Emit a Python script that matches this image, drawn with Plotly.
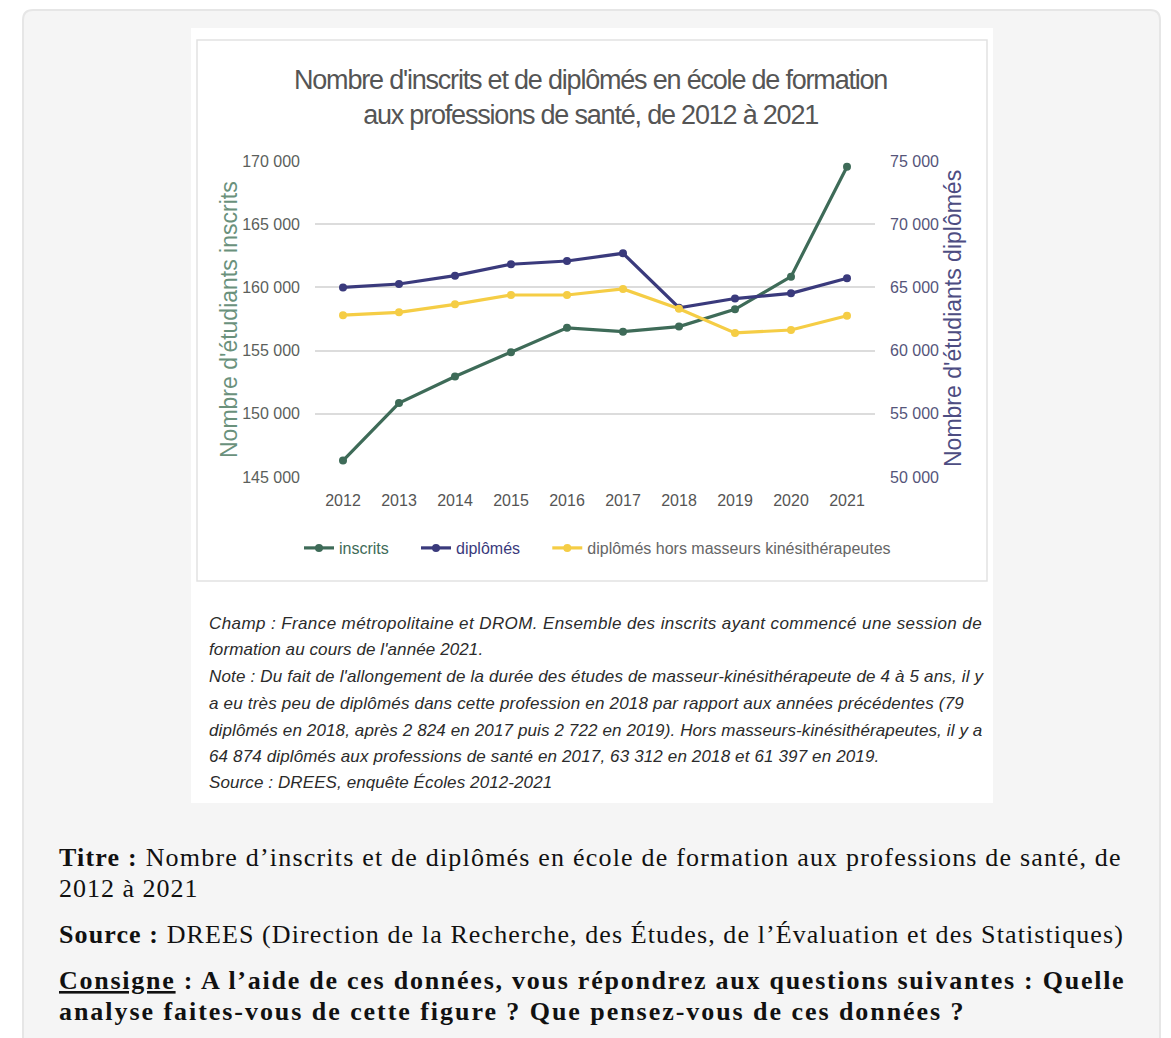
import plotly.graph_objects as go

# ---------------- data ----------------
years = ["2012", "2013", "2014", "2015", "2016", "2017", "2018", "2019", "2020", "2021"]
inscrits = [146300, 150850, 152950, 154870, 156800, 156500, 156900, 158270, 160850, 169550]
diplomes = [65000, 65270, 65930, 66830, 67090, 67698, 63391, 64119, 64530, 65720]
diplomes_hors_mk = [62800, 63030, 63660, 64400, 64400, 64874, 63312, 61397, 61630, 62760]
series_names = ["inscrits", "diplômés", "diplômés hors masseurs kinésithérapeutes"]

left_range = [145000, 170000]
right_range = [50000, 75000]

COL_INS = "#3e6b58"
COL_DIP = "#3a3a7c"
COL_HMK = "#f5cd45"

SANS = "Liberation Sans, Arial, sans-serif"
SERIF = "Liberation Serif, Times New Roman, serif"

W, H = 1171, 1038
PL, PR, PT, PB = 315, 875, 161, 477


def px(x):
    return (x - PL) / (PR - PL)


def py(y):
    return (PB - y) / (PB - PT)


GAP = "&nbsp;" * 5
fig = go.Figure()
fig.add_trace(go.Scatter(
    x=years, y=inscrits, name=f"<span style='color:{COL_INS}'>{series_names[0]}</span>{GAP}",
    mode="lines+markers", line=dict(color=COL_INS, width=3.2),
    marker=dict(size=8, color=COL_INS), yaxis="y"))
fig.add_trace(go.Scatter(
    x=years, y=diplomes, name=f"<span style='color:{COL_DIP}'>{series_names[1]}</span>{GAP}",
    mode="lines+markers", line=dict(color=COL_DIP, width=3.2),
    marker=dict(size=8, color=COL_DIP), yaxis="y2"))
fig.add_trace(go.Scatter(
    x=years, y=diplomes_hors_mk, name=series_names[2],
    mode="lines+markers", line=dict(color=COL_HMK, width=3.2),
    marker=dict(size=8, color=COL_HMK), yaxis="y2"))

shapes = []
x0, y0, x1, y1, r = 23, 10, 1160, 1060, 10
path = (f"M {px(x0)},{py(y0 + r)} "
        f"Q {px(x0)},{py(y0)} {px(x0 + r)},{py(y0)} "
        f"L {px(x1 - r)},{py(y0)} "
        f"Q {px(x1)},{py(y0)} {px(x1)},{py(y0 + r)} "
        f"L {px(x1)},{py(y1)} L {px(x0)},{py(y1)} Z")
shapes.append(dict(type="path", xref="paper", yref="paper", path=path,
                   fillcolor="#f5f5f5", line=dict(color="#e6e6e6", width=2), layer="below"))
shapes.append(dict(type="rect", xref="paper", yref="paper",
                   x0=px(191), x1=px(993), y0=py(28), y1=py(803),
                   fillcolor="white", line=dict(width=0), layer="below"))
shapes.append(dict(type="rect", xref="paper", yref="paper",
                   x0=px(197), x1=px(987), y0=py(40), y1=py(581),
                   fillcolor="rgba(0,0,0,0)", line=dict(color="#e2e2e2", width=1.5), layer="below"))

ann = []
ann.append(dict(text="<span style='letter-spacing:-1.2px'>Nombre d'inscrits et de diplômés en école de formation"
                     "<br>aux professions de santé, de 2012 à 2021</span>",
                x=px(590), y=py(97), xref="paper", yref="paper", showarrow=False,
                xanchor="center", yanchor="middle", align="center",
                font=dict(family=SANS, size=27, color="#555555")))
ann.append(dict(text="Nombre d'étudiants inscrits", x=px(229), y=py(320), xref="paper", yref="paper",
                showarrow=False, textangle=-90, xanchor="center", yanchor="middle",
                font=dict(family=SANS, size=23, color="#6a917c")))
ann.append(dict(text="Nombre d'étudiants diplômés", x=px(953), y=py(319), xref="paper", yref="paper",
                showarrow=False, textangle=-90, xanchor="center", yanchor="middle",
                font=dict(family=SANS, size=23, color="#4d4d82")))

notes = [
    "Champ : France métropolitaine et DROM. Ensemble des inscrits ayant commencé une session de",
    "formation au cours de l'année 2021.",
    "Note : Du fait de l'allongement de la durée des études de masseur-kinésithérapeute de 4 à 5 ans, il y",
    "a eu très peu de diplômés dans cette profession en 2018 par rapport aux années précédentes (79",
    "diplômés en 2018, après 2 824 en 2017 puis 2 722 en 2019). Hors masseurs-kinésithérapeutes, il y a",
    "64 874 diplômés aux professions de santé en 2017, 63 312 en 2018 et 61 397 en 2019.",
    "Source : DREES, enquête Écoles 2012-2021",
]
note_y = [623, 649, 676, 703, 730, 756, 782]
note_ls = [0.4, 0.1, 0.17, 0.2, 0.12, 0.14, 0.1]
for t, yy, ls in zip(notes, note_y, note_ls):
    ann.append(dict(text=f"<span style='letter-spacing:{ls}px'><i>{t}</i></span>", x=px(207), y=py(yy),
                    xref="paper", yref="paper",
                    showarrow=False, xanchor="left", yanchor="middle", align="left",
                    font=dict(family=SANS, size=17, color="#2b2b2b")))

body = [
    ("<b>Titre :</b> Nombre d’inscrits et de diplômés en école de formation aux professions de santé, de", 857, 1.2),
    ("2012 à 2021", 888, 1.0),
    ("<b>Source :</b> DREES (Direction de la Recherche, des Études, de l’Évaluation et des Statistiques)", 934, 1.1),
    ("<b><u>Consigne</u> : A l’aide de ces données, vous répondrez aux questions suivantes : Quelle</b>", 980, 1.75),
    ("<b>analyse faites-vous de cette figure ? Que pensez-vous de ces données ?</b>", 1011, 1.95),
]
for t, yy, ls in body:
    ann.append(dict(text=f"<span style='letter-spacing:{ls}px'>{t}</span>", x=px(57), y=py(yy),
                    xref="paper", yref="paper",
                    showarrow=False, xanchor="left", yanchor="middle", align="left",
                    font=dict(family=SERIF, size=26, color="#111111")))

fig.update_layout(
    width=W, height=H, autosize=False,
    margin=dict(l=PL, r=W - PR, t=PT, b=H - PB, pad=0),
    paper_bgcolor="white", plot_bgcolor="rgba(0,0,0,0)",
    separators=", ",
    showlegend=True,
    legend=dict(orientation="h", x=px(299), y=py(548), xanchor="left", yanchor="middle",
                font=dict(family=SANS, size=16, color="#666666"),
                bgcolor="rgba(0,0,0,0)", itemwidth=30, tracegroupgap=0),
    xaxis=dict(type="category", range=[-0.5, 9.5], showgrid=False, zeroline=False,
               showline=False, ticks="", ticklabelstandoff=12,
               tickfont=dict(family=SANS, size=16, color="#555555")),
    yaxis=dict(range=left_range, dtick=5000, tickformat=",d", showgrid=True,
               gridcolor="#dcdcdc", gridwidth=1.5, zeroline=False, showline=False,
               ticks="", ticklabelstandoff=14,
               tickfont=dict(family=SANS, size=16, color="#5b5f5c")),
    yaxis2=dict(range=right_range, dtick=5000, tickformat=",d", overlaying="y", side="right",
                showgrid=False, zeroline=False, showline=False, ticks="", ticklabelstandoff=14,
                tickfont=dict(family=SANS, size=16, color="#55557a")),
    shapes=shapes, annotations=ann,
)

fig.write_html("out.html", config={"displayModeBar": False},
               post_script="document.body.style.margin='0px';")
